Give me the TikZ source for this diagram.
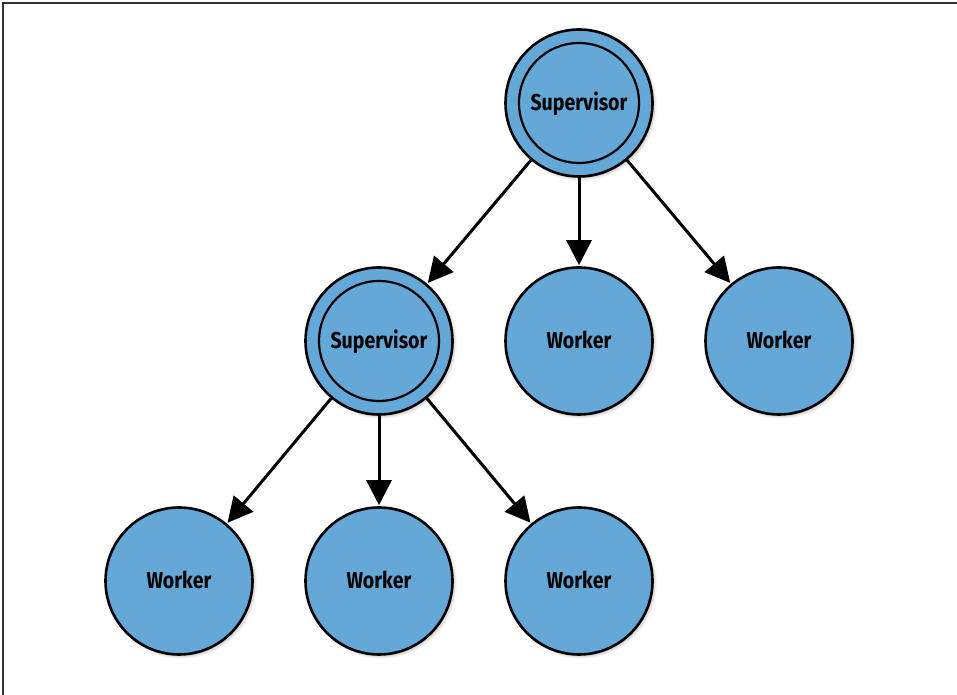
\documentclass[tikz,border=0pt]{standalone}
\usepackage{fontspec}
\newfontfamily\lblfont{Fira Sans}[FakeStretch=0.85]
\usetikzlibrary{arrows.meta,shadows.blur}
\definecolor{nodeblue}{RGB}{100,168,216}
\definecolor{frame}{RGB}{50,50,50}
\tikzset{
  x=1pt,y=1pt,
  base/.style={circle,draw=black,line width=2.6pt,fill=nodeblue,
    minimum size=147pt,inner sep=0pt,text height=15.8pt,text depth=0pt,
    font=\lblfont\bfseries\fontsize{23}{26}\selectfont,
    blur shadow={shadow xshift=2pt,shadow yshift=-2pt,shadow blur radius=3pt,shadow opacity=25}},
  worker/.style={base},
  sup/.style={base,path picture={\draw[line width=2.2pt] (path picture bounding box.center) circle (60pt);}},
  arr/.style={line width=3pt,-{Triangle[length=25pt,width=25pt]},shorten >=1pt},
}
\begin{document}
\begin{tikzpicture}
\useasboundingbox (0,0) rectangle (957,695);
\draw[frame,line width=2pt] (3,0) -- (3,692) -- (957,692);
\node[sup] (s1) at (579,592) {Supervisor};
\node[sup] (s2) at (379,354) {Supervisor};
\node[worker] (w1) at (579,354) {Worker};
\node[worker] (w2) at (779,354) {Worker};
\node[worker] (w3) at (179,114) {Worker};
\node[worker] (w4) at (379,114) {Worker};
\node[worker] (w5) at (579,114) {Worker};
\draw[arr] (s1) -- (s2);
\draw[arr] (s1) -- (w1);
\draw[arr] (s1) -- (w2);
\draw[arr] (s2) -- (w3);
\draw[arr] (s2) -- (w4);
\draw[arr] (s2) -- (w5);
\end{tikzpicture}
\end{document}
